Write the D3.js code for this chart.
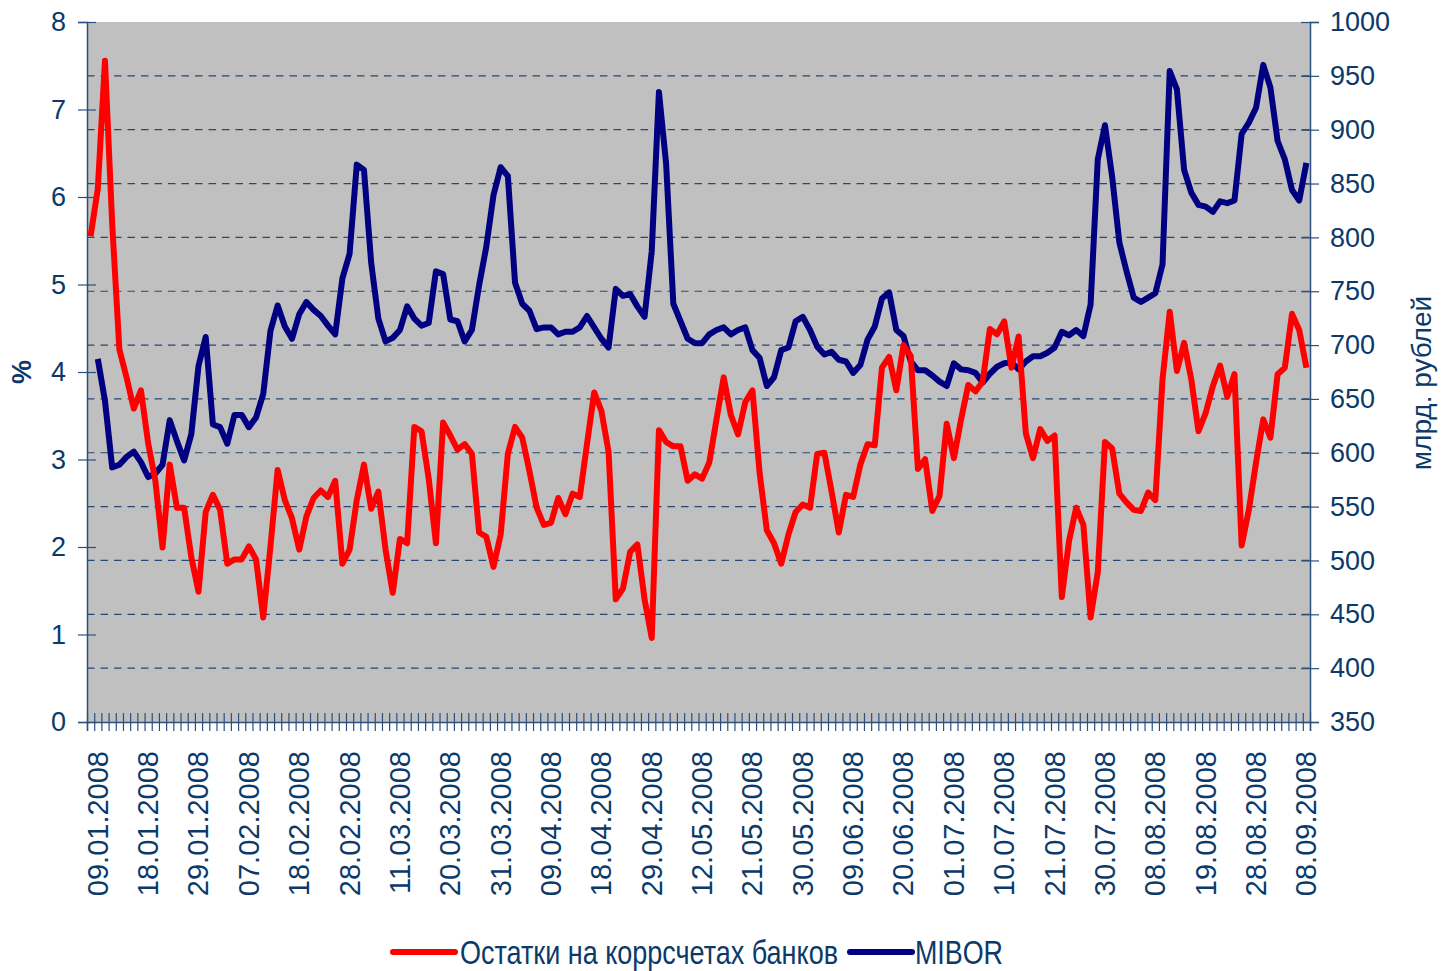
<!DOCTYPE html>
<html>
<head>
<meta charset="utf-8">
<script src="https://cdnjs.cloudflare.com/ajax/libs/d3/7.8.5/d3.min.js"></script>
<style>
  body { margin: 0; background: #fff; }
  svg { display: block; }
  text { font-family: "Liberation Sans", Arial, sans-serif; fill: #0b3a6a; }
</style>
</head>
<body>
<div id="chart"></div>
<script>
// trading days (categories)
var dates = [
  "09.01.2008","10.01.2008","11.01.2008","14.01.2008","15.01.2008","16.01.2008","17.01.2008","18.01.2008","21.01.2008","22.01.2008",
  "23.01.2008","24.01.2008","25.01.2008","28.01.2008","29.01.2008","30.01.2008","31.01.2008",
  "01.02.2008","04.02.2008","05.02.2008","06.02.2008","07.02.2008","08.02.2008","11.02.2008","12.02.2008","13.02.2008","14.02.2008",
  "15.02.2008","18.02.2008","19.02.2008","20.02.2008","21.02.2008","22.02.2008","26.02.2008","27.02.2008","28.02.2008","29.02.2008",
  "03.03.2008","04.03.2008","05.03.2008","06.03.2008","07.03.2008","11.03.2008","12.03.2008","13.03.2008","14.03.2008","17.03.2008",
  "18.03.2008","19.03.2008","20.03.2008","21.03.2008","24.03.2008","25.03.2008","26.03.2008","27.03.2008","28.03.2008","31.03.2008",
  "01.04.2008","02.04.2008","03.04.2008","04.04.2008","07.04.2008","08.04.2008","09.04.2008","10.04.2008","11.04.2008","14.04.2008",
  "15.04.2008","16.04.2008","17.04.2008","18.04.2008","21.04.2008","22.04.2008","23.04.2008","24.04.2008","25.04.2008","28.04.2008",
  "29.04.2008","30.04.2008",
  "04.05.2008","05.05.2008","06.05.2008","07.05.2008","08.05.2008","12.05.2008","13.05.2008","14.05.2008","15.05.2008","16.05.2008",
  "19.05.2008","20.05.2008","21.05.2008","22.05.2008","23.05.2008","26.05.2008","27.05.2008","28.05.2008","29.05.2008","30.05.2008",
  "02.06.2008","03.06.2008","04.06.2008","05.06.2008","06.06.2008","07.06.2008","09.06.2008","10.06.2008","11.06.2008","16.06.2008",
  "17.06.2008","18.06.2008","19.06.2008","20.06.2008","23.06.2008","24.06.2008","25.06.2008","26.06.2008","27.06.2008","30.06.2008",
  "01.07.2008","02.07.2008","03.07.2008","04.07.2008","07.07.2008","08.07.2008","09.07.2008","10.07.2008","11.07.2008","14.07.2008",
  "15.07.2008","16.07.2008","17.07.2008","18.07.2008","21.07.2008","22.07.2008","23.07.2008","24.07.2008","25.07.2008","28.07.2008",
  "29.07.2008","30.07.2008","31.07.2008",
  "01.08.2008","04.08.2008","05.08.2008","06.08.2008","07.08.2008","08.08.2008","11.08.2008","12.08.2008","13.08.2008","14.08.2008",
  "15.08.2008","18.08.2008","19.08.2008","20.08.2008","21.08.2008","22.08.2008","25.08.2008","26.08.2008","27.08.2008","28.08.2008",
  "29.08.2008",
  "01.09.2008","02.09.2008","03.09.2008","04.09.2008","05.09.2008","08.09.2008","09.09.2008"
];

// остатки на коррсчетах, млрд. руб (right axis)
var korrValues = [
  801,845,964,813,696,670,641,658,609,574, 512,589,549,549,503,471,545,561,547,497,
  501,501,513,501,447,513,584,556,539,510, 541,558,565,559,574,497,510,556,589,548,
  564,510,470,520,516,624,620,576,516,628, 616,603,608,599,526,522,494,524,599,624,
  614,583,549,533,535,558,543,562,559,608, 656,639,601,464,474,508,515,464,428,621,
  610,606,606,574,580,576,591,631,670,635, 617,647,658,581,528,516,497,524,545,552,
  549,599,600,564,526,561,559,589,608,607, 679,689,658,700,690,585,594,546,560,627,
  595,631,663,657,666,715,710,722,679,708, 618,595,622,611,616,466,518,549,533,447,
  489,610,604,562,554,547,546,563,556,668, 731,676,702,668,620,637,662,681,652,673,
  514,547,591,631,614,673,679,729,714,679
];

// MIBOR, % (left axis)
var miborValues = [
  null,4.15,3.67,2.91,2.94,3.03,3.09,2.97,2.80,2.84, 2.94,3.45,3.21,2.99,3.29,4.07,4.40,3.40,3.37,3.18,
  3.51,3.51,3.37,3.48,3.75,4.47,4.76,4.52,4.38,4.66, 4.80,4.71,4.64,4.53,4.43,5.07,5.35,6.37,6.31,5.25,
  4.61,4.35,4.39,4.48,4.75,4.61,4.53,4.56,5.15,5.12, 4.60,4.58,4.35,4.48,4.99,5.43,6.02,6.34,6.24,5.02,
  4.78,4.70,4.49,4.51,4.51,4.43,4.46,4.46,4.51,4.64, 4.51,4.38,4.28,4.95,4.87,4.89,4.75,4.63,5.38,7.20,
  6.38,4.78,4.58,4.38,4.33,4.33,4.43,4.48,4.51,4.43, 4.48,4.51,4.25,4.16,3.84,3.94,4.25,4.28,4.58,4.63,
  4.48,4.29,4.20,4.23,4.14,4.12,3.99,4.08,4.37,4.52, 4.84,4.91,4.48,4.41,4.12,4.02,4.02,3.96,3.89,3.84,
  4.10,4.03,4.02,3.99,3.88,3.98,4.06,4.10,4.11,4.03, 4.12,4.18,4.18,4.22,4.28,4.46,4.42,4.48,4.41,4.77,
  6.43,6.82,6.23,5.48,5.15,4.85,4.80,4.85,4.90,5.23, 7.44,7.23,6.31,6.05,5.91,5.89,5.83,5.95,5.93,5.96,
  6.72,6.85,7.02,7.51,7.25,6.64,6.43,6.08,5.96,6.39
];

var leftTicks = [0, 1, 2, 3, 4, 5, 6, 7, 8];
var rightTicks = [350, 400, 450, 500, 550, 600, 650, 700, 750, 800, 850, 900, 950, 1000];
var labelStep = 7;   // every 7th date is labelled

var seriesNames = ["Остатки на коррсчетах банков", "MIBOR"];
var seriesColors = ["#ff0000", "#000080"];

var width = 1445, height = 971;
var plotL = 87, plotR = 1310, plotT = 22, plotB = 722;
var axisColor = "#2b4f7e";

var svg = d3.select("#chart").append("svg")
    .attr("width", width)
    .attr("height", height);

var x = d3.scaleBand().domain(dates).range([plotL, plotR]).padding(0);
var xEdge = d3.scaleLinear().domain([0, dates.length]).range([plotL, plotR]);
var yL = d3.scaleLinear().domain([0, 8]).range([plotB, plotT]);
var yR = d3.scaleLinear().domain([350, 1000]).range([plotB, plotT]);

// plot area
svg.append("rect")
    .attr("x", plotL).attr("y", plotT)
    .attr("width", plotR - plotL).attr("height", plotB - plotT)
    .attr("fill", "#c0c0c0");

// dashed gridlines (right axis)
svg.append("g").selectAll("line")
    .data(rightTicks.filter(function(d) { return d > 350 && d < 1000; }))
    .enter().append("line")
    .attr("x1", plotL).attr("x2", plotR)
    .attr("y1", function(d) { return yR(d); })
    .attr("y2", function(d) { return yR(d); })
    .attr("stroke", "#274873")
    .attr("stroke-width", 1.2)
    .attr("stroke-dasharray", "7.5,6");

// left axis
var gL = svg.append("g")
    .attr("transform", "translate(" + plotL + ",0)")
    .call(d3.axisLeft(yL).tickValues(leftTicks).tickSize(9).tickPadding(12).tickFormat(d3.format("d")));
gL.selectAll(".tick line").attr("x1", 9);

// right axis
var gR = svg.append("g")
    .attr("transform", "translate(" + plotR + ",0)")
    .call(d3.axisRight(yR).tickValues(rightTicks).tickSize(9).tickPadding(11).tickFormat(d3.format("d")));
gR.selectAll(".tick line").attr("x1", -9);

// bottom axis: tick marks at category edges
var gB = svg.append("g")
    .attr("transform", "translate(0," + plotB + ")")
    .call(d3.axisBottom(xEdge).tickValues(d3.range(0, dates.length + 1)).tickSize(9).tickFormat(""));
gB.selectAll(".tick line").attr("y1", -9);

[gL, gR, gB].forEach(function(g) {
  g.select(".domain").attr("stroke", axisColor).attr("stroke-width", 1.5);
  g.selectAll(".tick line").attr("stroke", axisColor).attr("stroke-width", 1.2);
  g.selectAll(".tick text")
    .attr("fill", "#0b3a6a")
    .style("font-size", "27px")
    .style("font-family", "'Liberation Sans', Arial, sans-serif");
});

// date labels
svg.append("g").selectAll("text")
    .data(dates.filter(function(d, i) { return i % labelStep === 0; }))
    .enter().append("text")
    .attr("transform", function(d) {
      return "translate(" + (x(d) + x.bandwidth() / 2 + 7) + "," + (plotB + 29) + ") rotate(-90)";
    })
    .attr("text-anchor", "end")
    .attr("dy", "0.35em")
    .style("font-size", "29px")
    .text(function(d) { return d; });

// series lines
var line = d3.line()
    .defined(function(d) { return d.v != null; })
    .x(function(d) { return x(d.date) + x.bandwidth() / 2; });

var miborData = dates.map(function(d, i) { return { date: d, v: miborValues[i] }; });
var korrData = dates.map(function(d, i) { return { date: d, v: korrValues[i] }; });

svg.append("path")
    .datum(miborData)
    .attr("fill", "none")
    .attr("stroke", seriesColors[1])
    .attr("stroke-width", 6)
    .attr("stroke-linejoin", "round")
    .attr("d", line.y(function(d) { return yL(d.v); }));

svg.append("path")
    .datum(korrData)
    .attr("fill", "none")
    .attr("stroke", seriesColors[0])
    .attr("stroke-width", 6)
    .attr("stroke-linejoin", "round")
    .attr("d", line.y(function(d) { return yR(d.v); }));

// axis titles
svg.append("text")
    .attr("transform", "translate(22," + ((plotT + plotB) / 2) + ") rotate(-90)")
    .attr("text-anchor", "middle")
    .attr("dy", "0.35em")
    .style("font-size", "27px")
    .style("font-weight", "bold")
    .text("%");

svg.append("text")
    .attr("transform", "translate(1421,383) rotate(-90)")
    .attr("text-anchor", "middle")
    .attr("dy", "0.35em")
    .style("font-size", "28px")
    .text("млрд. рублей");

// legend
var legendItems = [
  { name: seriesNames[0], color: seriesColors[0], x0: 393, tx: 460, tw: 378 },
  { name: seriesNames[1], color: seriesColors[1], x0: 850, tx: 915, tw: 88 }
];
var lg = svg.append("g").selectAll("g").data(legendItems).enter().append("g");
lg.append("line")
    .attr("x1", function(d) { return d.x0; })
    .attr("x2", function(d) { return d.x0 + 62; })
    .attr("y1", 952).attr("y2", 952)
    .attr("stroke", function(d) { return d.color; })
    .attr("stroke-width", 6)
    .attr("stroke-linecap", "round");
lg.append("text")
    .attr("x", function(d) { return d.tx; })
    .attr("y", 952)
    .attr("dy", "0.36em")
    .attr("textLength", function(d) { return d.tw; })
    .attr("lengthAdjust", "spacingAndGlyphs")
    .style("font-size", "33px")
    .text(function(d) { return d.name; });
</script>
</body>
</html>
